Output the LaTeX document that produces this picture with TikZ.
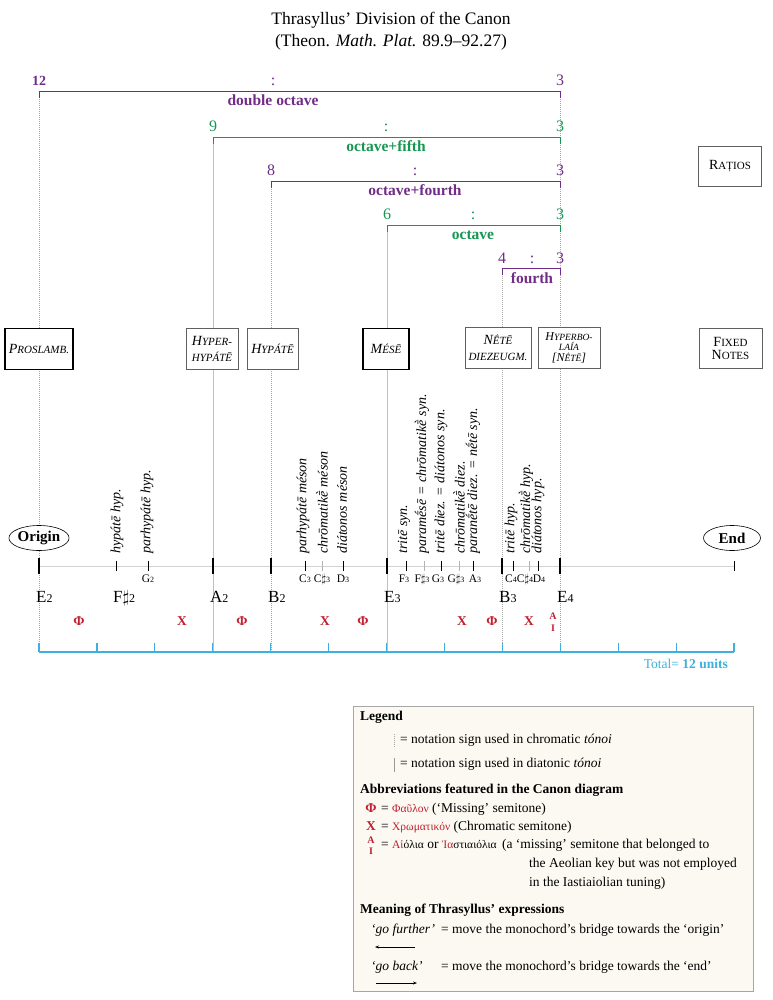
\documentclass[tikz,border=0pt]{standalone}
\usepackage{fontspec}
\setmainfont{Liberation Serif}
\usetikzlibrary{positioning,shapes.geometric,arrows.meta}
\definecolor{ratiopurple}{RGB}{112,44,134}
\definecolor{ratiogreen}{RGB}{22,150,82}
\definecolor{semired}{RGB}{192,32,48}
\definecolor{unitblue}{RGB}{62,176,218}
\definecolor{legendfill}{RGB}{251,249,241}
\newcommand\fsz[1]{\fontsize{#1}{#1}\selectfont}
\newcommand\sca[1]{{\fsz{11}#1}}
\newcommand\scb[1]{{\fsz{9.5}#1}}
\newcommand\bnum[1]{{\fsz{12}#1}}
\newcommand\snum[1]{{\fsz{8}#1}}
\newcommand\grk[1]{{\fsz{11.5}#1}}
\tikzset{
  chromline/.style = {draw = gray!70, line width = 0.6pt, dash pattern = on 1pt off 1pt},
  diatline/.style = {draw = gray!50, line width = 0.6pt},
  fixedbox/.style = {draw = gray!75!black, line width = 0.6pt, fill = white, align = center, inner sep = 2pt, minimum height = 41pt, font = \itshape\fontsize{14}{16}\selectfont},
  mainbox/.style = {fixedbox, draw = black, line width = 1.5pt},
  sidebox/.style = {fixedbox, font = \fontsize{14}{13}\selectfont, minimum width = 63pt, minimum height = 40pt},
  endpoint/.style = {ellipse, draw = black, line width = 0.6pt, fill = white, minimum width = 57pt, minimum height = 25pt, inner sep = 0pt, font = \bfseries\fsz{15}},
  sidelabel/.style = {rotate = 90, anchor = west, inner sep = 1pt, font = \itshape\fsz{14}},
  semi/.style = {text = semired, anchor = base, inner sep = 0pt, font = \bfseries\fsz{13.5}},
  legendtext/.style = {anchor = base west, inner sep = 0pt, font = \fsz{13.5}},
  legendhead/.style = {legendtext, font = \bfseries\fsz{13.5}}
}
\begin{document}
\begin{tikzpicture}[x = 1pt, y = -1pt]
\useasboundingbox (0,0) rectangle (772,1000);
\pgfmathsetmacro\unitw{57.92}
\node (title) at (391,20) {\fsz{17.5}Thrasyllus' Division of the Canon};
\node (source) at (391,42) {\fsz{17.5}(Theon. \textit{Math. Plat.} 89.9–92.27)};
\foreach \x/\top/\kind in {39/91/chromline, 213/137/diatline, 271/181/chromline, 387/225/diatline, 502/268/chromline, 560/91/chromline}
  \draw[\kind] (\x,\top) -- (\x,652);
\foreach \lx/\ly/\cx/\num/\name/\col in {39/91/273/\textbf{\fsz{14}12}/double octave/ratiopurple, 213/137/386/9/octave+fifth/ratiogreen, 271/181/415/8/octave+fourth/ratiopurple, 387/225/473/6/octave/ratiogreen, 502/268/532/4/fourth/ratiopurple}
{
  \draw[\col, line width = 0.9pt] (\lx,\ly+7) -- (\lx,\ly) -- (560,\ly) -- (560,\ly+7);
  \node[text = \col, anchor = base, inner sep = 0pt, font = \fsz{16}] (low\ly) at (\lx,\ly-5) {\num};
  \node[text = \col, anchor = base, inner sep = 0pt, font = \fsz{16}] (colon\ly) at (\cx,\ly-5) {:};
  \node[text = \col, anchor = base, inner sep = 0pt, font = \fsz{16}] (high\ly) at (560,\ly-5) {3};
  \node[text = \col, anchor = base, inner sep = 0pt, font = \bfseries\fsz{15.5}] (ratio\ly) at (\cx,\ly+15) {\name};
}
\node[sidebox] (ratios) at (730,166) {R\sca{AȚIOS}};
\node[mainbox, minimum width = 68pt] (proslamb) at (39,349) {P\sca{ROSLAMB.}};
\node[fixedbox, minimum width = 52pt] (hyperhypate) at (212,348.5) {H\sca{YPER-}\\\sca{HYPÁTĒ}};
\node[fixedbox, minimum width = 51pt] (hypate) at (272.5,348.5) {H\sca{YPÁTĒ}};
\node[mainbox, minimum width = 46pt] (mese) at (386,349) {M\sca{ÉSĒ}};
\node[fixedbox, minimum width = 66pt] (netediez) at (498,347.5) {N\sca{ḖTĒ}\\\sca{DIEZEUGM.}};
\node[fixedbox, minimum width = 62pt, font = \itshape\fontsize{12}{10.5}\selectfont] (hyperbolaia) at (569,347.5) {H\scb{YPERBO-}\\\scb{LAÍA}\\{[}N\scb{ḖTĒ}{]}};
\node[sidebox] (fixednotes) at (730.5,348) {F\sca{IXED}\\N\sca{OTES}};
\foreach \x/\txt in {117/hypátē hyp., 147/parhypátē hyp., 303/parhypátē méson, 322/chrōmatikḕ méson, 342/diátonos méson, 404/tritē syn., 422/paramḗsē = chrōmatikḕ syn., 441/tritē diez. = diátonos syn., 459/chrōmatikḕ diez., 473/paranḗtē diez. = nḗtē syn., 511/tritē hyp., 526/chrōmatikḕ hyp., 538/diátonos hyp.}
  \node[sidelabel] at (\x,555) {\txt};
\node[endpoint] (origin) at (39,538) {Origin};
\node[endpoint] (end) at (732,538) {End};
\draw[gray!35, line width = 1pt] (39,566) -- (734,566);
\foreach \x in {39,213,271,387,502,560} \draw[line width = 1.6pt] (\x,558) -- (\x,574);
\foreach \x in {116,148,305,343,406,441,473,513,538,734} \draw[line width = 0.6pt] (\x,561) -- (\x,571);
\foreach \x in {322,424,459,529} \draw[gray!60, line width = 0.6pt] (\x,561) -- (\x,571);
\foreach \x/\nm in {148/G\snum{2}, 305/C\snum{3}, 322/C$\sharp$\snum{3}, 343/D\snum{3}, 404/F\snum{3}, 422/F$\sharp$\snum{3}, 438/G\snum{3}, 456/G$\sharp$\snum{3}, 475/A\snum{3}, 511/C\snum{4}, 525/C$\sharp$\snum{4}, 539/D\snum{4}}
  \node[anchor = base, inner sep = 0pt, font = \fsz{11.5}] at (\x,582) {\nm};
\foreach \x/\nm/\oct [count = \i] in {39/E/2, 116/F$\sharp$/2, 213/A/2, 271/B/2, 387/E/3, 502/B/3, 560/E/4}
  \node[anchor = base west, inner sep = 0pt, font = \fsz{17}] (note\i) at (\x-3,602) {\nm\bnum{\oct}};
\foreach \x/\g in {79/Φ, 182/Χ, 242/Φ, 325/Χ, 363/Φ, 462/Χ, 492/Φ, 529/Χ}
  \node[semi] at (\x,625) {\g};
\node[semi, font = \bfseries\fsz{10}] (aiolia) at (553,619) {Α};
\node[semi, font = \bfseries\fsz{10}] (iasti) at (553,631) {Ι};
\draw[unitblue, line width = 1.2pt] (39,652) -- (734,652);
\foreach \k in {0,...,12} \draw[unitblue, line width = 1.2pt] (39+\unitw*\k,652) -- (39+\unitw*\k,643);
\node[text = unitblue, anchor = base east, inner sep = 0pt, font = \fsz{13.5}] (total) at (728,668) {Total= \textbf{12 units}};
\draw[draw = gray!70, fill = legendfill, line width = 1pt] (353,706) rectangle (753,991);
\node[legendhead] (legend) at (360,720) {Legend};
\draw[chromline] (394,734) -- (394,748);
\node[legendtext] (chromsign) at (400,743) {= notation sign used in chromatic \textit{tónoi}};
\draw[draw = gray!80, line width = 0.8pt] (394,758) -- (394,772);
\node[legendtext] (diatsign) at (400,767) {= notation sign used in diatonic \textit{tónoi}};
\node[legendhead] (abbrev) at (360,793) {Abbreviations featured in the Canon diagram};
\node[semi] (phi) at (371,812) {Φ};
\node[legendtext] (phitext) at (381,812) {= \textcolor{semired}{\grk{Φαῦλον}} (‘Missing’ semitone)};
\node[semi] (chi) at (371,830) {Χ};
\node[legendtext] (chitext) at (381,830) {= \textcolor{semired}{\grk{Χρωματικόν}} (Chromatic semitone)};
\node[semi, font = \bfseries\fsz{10}] (alpha) at (371,843) {Α};
\node[semi, font = \bfseries\fsz{10}] (iota) at (371,854) {Ι};
\node[legendtext] (aitext) at (381,848) {= \textcolor{semired}{\grk{Αἰ}}\grk{όλια} or \textcolor{semired}{\grk{Ἰα}}\grk{στιαιόλια}};
\node[legendtext] (ainote) at ([xshift = 5pt]aitext.base east) {(a ‘missing’ semitone that belonged to};
\node[legendtext] (ainoteb) at (529,867) {the Aeolian key but was not employed};
\node[legendtext] (ainotec) at (529,886) {in the Iastiaiolian tuning)};
\node[legendhead] (meaning) at (360,913) {Meaning of Thrasyllus' expressions};
\node[legendtext] (further) at (371,933) {\textit{‘go further’}};
\node[legendtext] (furthertext) at (441,933) {= move the monochord's bridge towards the ‘origin’};
\coordinate (furtherstart) at (415,947);
\coordinate (furtherend) at (375,947);
\draw[-{Stealth[length = 4pt, width = 3pt]}, line width = 0.6pt] (furtherstart) -- (furtherend);
\node[legendtext] (back) at (371,970) {\textit{‘go back’}};
\node[legendtext] (backtext) at (441,970) {= move the monochord's bridge towards the ‘end’};
\coordinate (backstart) at (376,983);
\coordinate (backend) at (417,983);
\draw[-{Stealth[length = 4pt, width = 3pt]}, line width = 0.6pt] (backstart) -- (backend);
\end{tikzpicture}
\end{document}
